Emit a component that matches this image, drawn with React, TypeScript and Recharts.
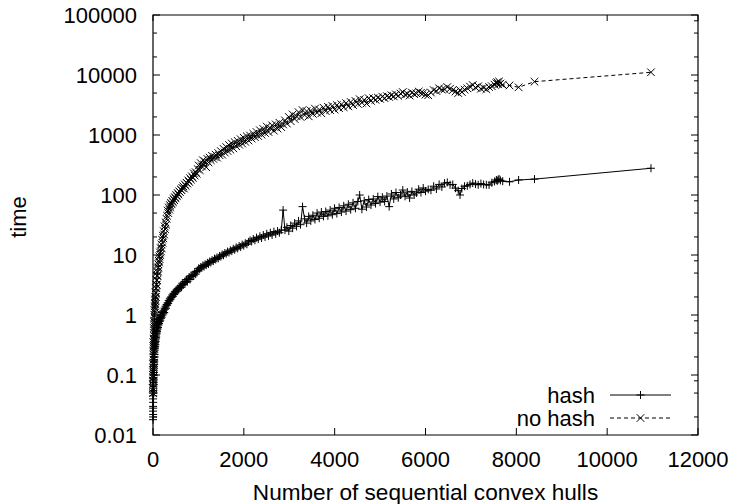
import { ScatterChart, Scatter, XAxis, YAxis, ReferenceArea, Legend } from 'recharts'

// number of hulls per run (shared by both series), rows of 20
const hullCounts = [
  1, 1, 2, 2, 3, 3, 4, 5, 5, 6, 7, 8, 8, 9, 10, 11, 12, 13, 14, 15,
  16, 17, 18, 20, 21, 22, 24, 25, 27, 28, 30, 32, 33, 35, 37, 39, 41, 43, 45, 47,
  50, 52, 55, 58, 61, 64, 67, 70, 74, 78, 82, 86, 90, 95, 100, 105, 110, 116, 122, 128,
  134, 140, 147, 154, 161, 168, 176, 184, 192, 200, 209, 218, 227, 236, 246, 256, 266, 277, 288, 299,
  310, 322, 334, 346, 358, 371, 384, 397, 410, 424, 438, 452, 467, 482, 497, 512, 528, 544, 560, 577,
  594, 611, 628, 646, 664, 682, 700, 719, 738, 757, 776, 796, 816, 836, 856, 877, 898, 919, 940, 962,
  984, 1006, 1029, 1052, 1075, 1099, 1123, 1147, 1172, 1197, 1222, 1248, 1274, 1300, 1327, 1354, 1381, 1409, 1437, 1465,
  1494, 1523, 1552, 1582, 1612, 1642, 1673, 1704, 1735, 1767, 1799, 1831, 1864, 1897, 1930, 1964, 1998, 2032, 2067, 2102,
  2137, 2172, 2208, 2244, 2280, 2317, 2354, 2391, 2429, 2467, 2505, 2544, 2583, 2622, 2662, 2702, 2742, 2783, 2824, 2865,
  2906, 2948, 2990, 3032, 3075, 3118, 3161, 3205, 3249, 3293, 3338, 3383, 3428, 3474, 3520, 3566, 3613, 3660, 3707, 3755,
  3803, 3851, 3900, 3949, 3998, 4048, 4098, 4148, 4199, 4250, 4301, 4353, 4405, 4457, 4510, 4550, 4600, 4650, 4700, 4750,
  4800, 4850, 4900, 4950, 5000, 5050, 5100, 5150, 5200, 5250, 5300, 5350, 5400, 5450, 5500, 5550, 5600, 5650, 5700, 5750,
  5800, 5850, 5900, 5950, 6000, 6060, 6120, 6180, 6240, 6300, 6360, 6420, 6480, 6540, 6600, 6660, 6720, 6760, 6800, 6860,
  6920, 6980, 7040, 7100, 7160, 7220, 7280, 7340, 7400, 7460, 7520, 7560, 7580, 7600, 7620, 7650, 7700, 7850, 8050, 8400,
  10965,
]

const hashTimes = [
  0.018, 0.025, 0.02, 0.03, 0.022, 0.04, 0.035, 0.05, 0.028, 0.045, 0.06, 0.05, 0.07, 0.055, 0.08, 0.065, 0.09, 0.075, 0.1, 0.085,
  0.12, 0.1, 0.14, 0.11, 0.16, 0.13, 0.18, 0.15, 0.2, 0.17, 0.24, 0.2, 0.28, 0.22, 0.3, 0.26, 0.33, 0.28, 0.35, 0.3,
  0.38, 0.32, 0.42, 0.36, 0.45, 0.4, 0.5, 0.43, 0.48, 0.55, 0.5, 0.6, 0.53, 0.65, 0.58, 0.7, 0.62, 0.75, 0.68, 0.8,
  0.72, 0.85, 0.78, 0.9, 0.82, 0.95, 0.88, 1.0, 0.92, 1.1, 1.0, 1.15, 1.05, 1.2, 1.1, 1.3, 1.25, 1.4, 1.3, 1.5,
  1.45, 1.6, 1.55, 1.75, 1.7, 1.9, 1.8, 2.0, 1.95, 2.15, 2.05, 2.3, 2.2, 2.45, 2.35, 2.6, 2.5, 2.75, 2.65, 2.9,
  2.8, 3.1, 2.9, 3.4, 3.2, 3.3, 3.6, 3.5, 3.9, 3.6, 4.0, 4.3, 3.9, 4.5, 4.4, 4.7, 4.5, 5.2, 4.8, 5.3,
  5.5, 6.0, 5.8, 6.3, 6.1, 6.7, 6.4, 7.0, 6.8, 7.4, 7.1, 7.8, 7.5, 8.2, 7.9, 8.7, 8.4, 9.1, 8.8, 9.6,
  9.4, 10.2, 9.9, 10.8, 10.5, 11.4, 11.0, 12.0, 11.6, 12.7, 12.2, 13.4, 12.9, 14.1, 13.6, 14.9, 14.3, 15.7, 15.1, 16.5,
  17.5, 16.8, 18.5, 17.6, 19.5, 18.4, 20.5, 19.2, 21.5, 20, 22.5, 20.8, 23.5, 21.6, 24.5, 22.5, 25, 23.5, 26, 56,
  26, 29, 25, 31, 28, 34, 30, 37, 32, 64, 40, 34, 44, 37, 46, 39, 50, 41, 52, 44,
  53, 45, 56, 47, 60, 49, 62, 52, 66, 54, 70, 57, 74, 60, 78, 100, 58, 80, 63, 84,
  68, 86, 72, 94, 76, 92, 78, 96, 64, 104, 86, 110, 90, 100, 121, 95, 112, 89, 115, 100,
  108, 125, 110, 131, 116, 124, 120, 140, 126, 150, 136, 158, 162, 148, 150, 130, 118, 100, 128, 140,
  142, 150, 158, 152, 148, 155, 150, 148, 147, 160, 168, 178, 172, 180, 185, 175, 170, 166, 178, 184,
  279,
]

const noHashTimes = [
  0.05, 0.07, 0.06, 0.09, 0.08, 0.06, 0.1, 0.12, 0.08, 0.15, 0.11, 0.18, 0.13, 0.2, 0.16, 0.25, 0.3, 0.22, 0.35, 0.28,
  0.4, 0.32, 0.35, 0.5, 0.38, 0.6, 0.45, 0.7, 0.55, 0.8, 0.65, 1.0, 0.75, 1.2, 0.9, 1.4, 1.1, 1.6, 1.3, 1.8,
  1.5, 2.0, 1.7, 2.4, 2.0, 2.8, 2.3, 3.2, 2.8, 3.8, 3.2, 4.5, 3.8, 5.2, 4.5, 6.0, 5.3, 7.0, 6.2, 8.0,
  7.5, 9.5, 8.5, 11, 10, 13, 11.5, 15, 13, 18, 16, 21, 19, 25, 22, 30, 27, 35, 32, 40,
  45, 55, 50, 62, 57, 68, 63, 74, 70, 80, 76, 86, 82, 92, 88, 100, 95, 108, 102, 115,
  112, 124, 120, 131, 140, 128, 150, 142, 160, 155, 175, 165, 190, 180, 205, 192, 230, 210, 240, 225,
  270, 310, 260, 340, 300, 380, 320, 360, 290, 400, 350, 420, 380, 450, 400, 430, 470, 420, 500, 460,
  540, 470, 590, 510, 630, 540, 680, 570, 720, 600, 760, 650, 800, 690, 850, 720, 900, 770, 950, 810,
  980, 870, 1050, 920, 1120, 960, 1200, 1010, 1260, 1080, 1380, 1120, 1300, 1450, 1180, 1500, 1280, 1600, 1350, 1500,
  1750, 1550, 2000, 1700, 2200, 1850, 2050, 2400, 2000, 2600, 2150, 2500, 2050, 2550, 2250, 2750, 2350, 2650, 2300, 2850,
  2500, 2950, 2600, 3050, 2650, 3150, 2800, 3250, 2900, 3400, 3000, 3550, 3150, 3700, 3300, 3950, 3450, 3850, 3350, 4100,
  3700, 4100, 3850, 4200, 4000, 4350, 4100, 4450, 4300, 4600, 4400, 4750, 4500, 4900, 5200, 4700, 4850, 4550, 5100, 4800,
  4950, 5300, 5050, 5000, 4700, 4600, 5100, 5600, 5400, 6000, 5700, 5800, 6300, 5900, 5600, 5300, 5000, 5600, 5200, 5700,
  6000, 6400, 6800, 6200, 6500, 5900, 6100, 5800, 6300, 6500, 6900, 7300, 7600, 7000, 7800, 7200, 6900, 6700, 6240, 7740,
  11100,
]

const xTicks = [0, 2000, 4000, 6000, 8000, 10000, 12000]
const yMajorTicks = [0.01, 0.1, 1, 10, 100, 1000, 10000, 100000]
const yMinorTicks = [
  0.02, 0.05, 0.08, 0.2, 0.5, 0.8, 2, 5, 8, 20, 50, 80,
  200, 500, 800, 2000, 5000, 8000, 20000, 50000, 80000,
]

const hashData = hullCounts.map((x, i) => ({ x, y: hashTimes[i] }))
const noHashData = hullCounts.map((x, i) => ({ x, y: noHashTimes[i] }))

const W = 735
const H = 504
const PLOT = { left: 153, right: 698, top: 15, bottom: 435 }
const FONT = '"Liberation Sans", Arial, Helvetica, sans-serif'
const FS = 22

const PlusMark = (p: any) => (
  <path
    d={`M${p.cx - 4},${p.cy}h8M${p.cx},${p.cy - 4}v8`}
    stroke="#000"
    strokeWidth={1}
    fill="none"
  />
)

const CrossMark = (p: any) => (
  <path
    d={`M${p.cx - 3.8},${p.cy - 3.8}l7.6,7.6M${p.cx + 3.8},${p.cy - 3.8}l-7.6,7.6`}
    stroke="#000"
    strokeWidth={1}
    fill="none"
  />
)

function XTick(props: any) {
  const c = props.payload?.coordinate ?? props.x
  return (
    <g>
      <line x1={c} x2={c} y1={PLOT.bottom} y2={PLOT.bottom - 7} stroke="#000" />
      <line x1={c} x2={c} y1={PLOT.top} y2={PLOT.top + 6} stroke="#000" />
      <text x={c} y={459} dy="0.35em" textAnchor="middle" fontSize={FS} fontFamily={FONT} fill="#000">
        {props.payload.value}
      </text>
    </g>
  )
}

function YTick(props: any) {
  const v = props.payload.value
  const c = props.payload?.coordinate ?? props.y
  const major = yMajorTicks.includes(v)
  const len = major ? 7 : 4
  // the 8x minor ticks only show on the right border
  const eight = !major && String(v).includes('8')
  return (
    <g>
      {!eight && <line x1={PLOT.left} x2={PLOT.left + len} y1={c} y2={c} stroke="#000" />}
      <line x1={PLOT.right} x2={PLOT.right - len} y1={c} y2={c} stroke="#000" />
      {major && (
        <text x={137} y={c} dy="0.35em" textAnchor="end" fontSize={FS} fontFamily={FONT} fill="#000">
          {v}
        </text>
      )}
    </g>
  )
}

function YLabel(props: any) {
  const vb = props.viewBox || { y: PLOT.top, height: PLOT.bottom - PLOT.top }
  const cy = vb.y + vb.height / 2 - 8
  return (
    <text
      x={18}
      y={cy}
      dy="0.35em"
      textAnchor="middle"
      transform={`rotate(-90, 18, ${cy})`}
      fontSize={FS}
      fontFamily={FONT}
      fill="#000"
    >
      time
    </text>
  )
}

function XLabel(props: any) {
  const vb = props.viewBox || { x: PLOT.left, width: PLOT.right - PLOT.left }
  return (
    <text
      x={vb.x + vb.width / 2}
      y={492}
      dy="0.35em"
      textAnchor="middle"
      fontSize={22.6}
      fontFamily={FONT}
      fill="#000"
    >
      Number of sequential convex hulls
    </text>
  )
}

function KeyBox() {
  const lx = 470
  const ly = 380
  const textStyle = { fontSize: FS, fontFamily: FONT, fill: '#000' }
  return (
    <svg width={220} height={50} style={{ display: 'block' }}>
      <text x={595 - lx} y={395 - ly} dy="0.35em" textAnchor="end" {...textStyle}>
        hash
      </text>
      <line x1={610 - lx} x2={671 - lx} y1={395 - ly} y2={395 - ly} stroke="#000" />
      <PlusMark cx={640.5 - lx} cy={395 - ly} />
      <text x={595 - lx} y={418 - ly} dy="0.35em" textAnchor="end" {...textStyle}>
        no hash
      </text>
      <line
        x1={610 - lx}
        x2={671 - lx}
        y1={418 - ly}
        y2={418 - ly}
        stroke="#000"
        strokeDasharray="4 3"
      />
      <CrossMark cx={640.5 - lx} cy={418 - ly} />
    </svg>
  )
}

export default function App() {
  return (
    <div style={{ position: 'absolute', left: 0, top: 0, width: W, height: H, background: '#fff' }}>
      <ScatterChart
        width={W}
        height={H}
        margin={{ top: PLOT.top, right: W - PLOT.right, bottom: 0, left: 0 }}
      >
        <XAxis
          type="number"
          dataKey="x"
          domain={[0, 12000]}
          ticks={xTicks}
          interval={0}
          height={H - PLOT.bottom}
          tickLine={false}
          axisLine={false}
          tick={<XTick />}
          label={<XLabel />}
        />
        <YAxis
          type="number"
          dataKey="y"
          scale="log"
          domain={[0.01, 100000]}
          allowDataOverflow
          ticks={[...yMajorTicks, ...yMinorTicks].sort((a, b) => a - b)}
          interval={0}
          width={PLOT.left}
          tickLine={false}
          axisLine={false}
          tick={<YTick />}
          label={<YLabel />}
        />
        <ReferenceArea
          x1={0}
          x2={12000}
          y1={0.01}
          y2={100000}
          fill="none"
          stroke="#000"
          strokeWidth={1.2}
          ifOverflow="visible"
        />
        <Scatter
          name="hash"
          data={hashData}
          shape={PlusMark}
          line={{ stroke: '#000', strokeWidth: 1 }}
          lineType="joint"
          isAnimationActive={false}
        />
        <Scatter
          name="no hash"
          data={noHashData}
          shape={CrossMark}
          line={{ stroke: '#000', strokeWidth: 1, strokeDasharray: '4 3' }}
          lineType="joint"
          isAnimationActive={false}
        />
        <Legend
          layout="horizontal"
          verticalAlign="middle"
          align="center"
          wrapperStyle={{ position: 'absolute', left: 470, top: 380, width: 220, height: 50 }}
          content={() => <KeyBox />}
        />
      </ScatterChart>
    </div>
  )
}
